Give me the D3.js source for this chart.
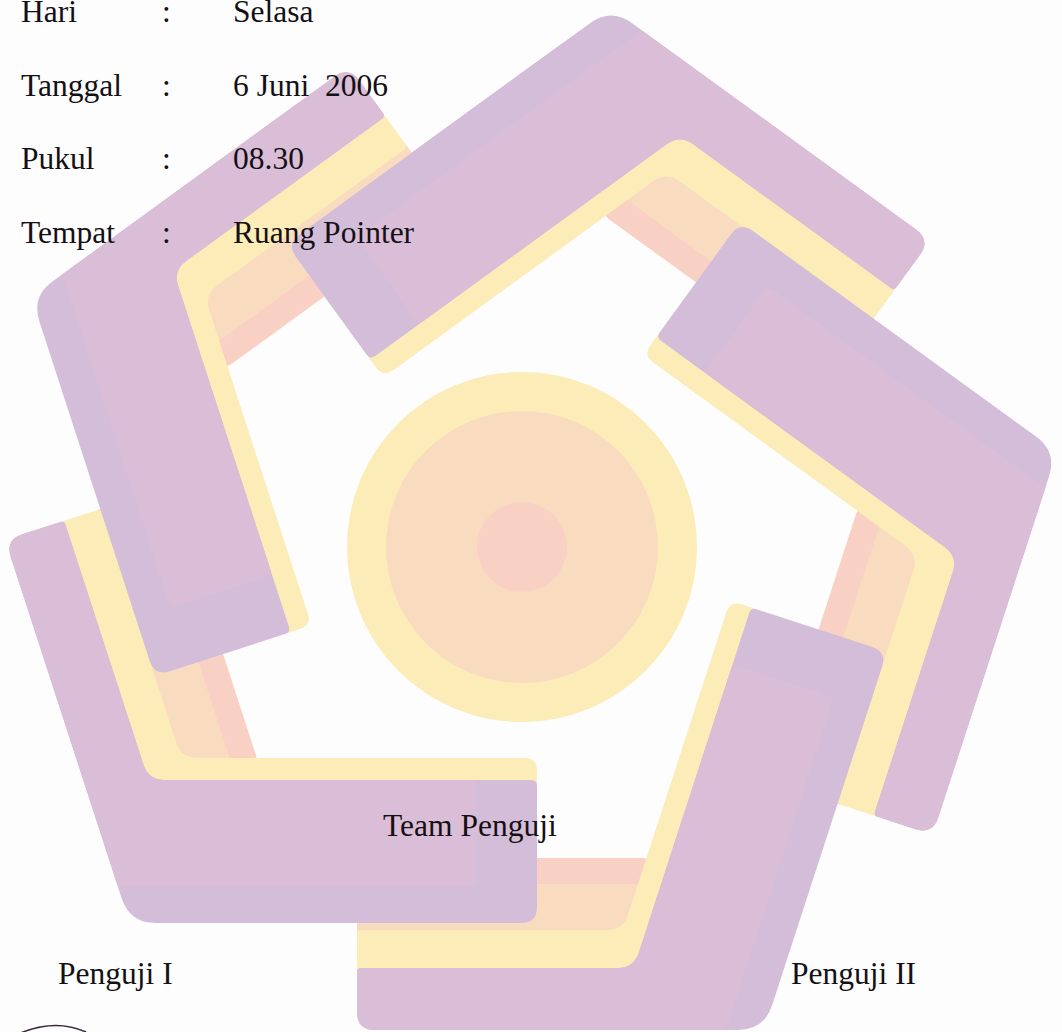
<!DOCTYPE html>
<html>
<head>
<meta charset="utf-8">
<script src="https://cdn.jsdelivr.net/npm/d3@7"></script>
<style>
html, body { margin: 0; padding: 0; background: #fdfdfd; overflow: hidden; }
text { font-family: "Liberation Serif", "Times New Roman", serif; fill: #141014; }
</style>
</head>
<body>
<svg id="page" width="1062" height="1032"></svg>
<script>
const fieldLabels = ["Hari", "Tanggal", "Pukul", "Tempat"];
const fieldValues = ["Selasa", "6 Juni  2006", "08.30", "Ruang Pointer"];
const teamTitle = "Team Penguji";
const examiners = ["Penguji I", "Penguji II"];
const armVertices = [-90, -18, 54, 126, 198]; // pentagon corners, degrees
const circleRings = ["#fbecb8", "#f9dcc0", "#f9d1c4"];

const svg = d3.select("#page");
const cx = 520, cy = 545;
const rad = d => d * Math.PI / 180;

// band offsets from the centre (px)
const A_OUT = 384, A_PURPLE_IN = 241, A_YELLOW_IN = 219, A_PINK_OUT = 348;
const B_OUT = 486, B_PURPLE_IN = 424, B_YELLOW_IN = 386, B_PEACH_IN = 340, B_SALMON_IN = 314;
// the scanned logo is not quite regular: per-arm shifts [dA, dB, tA end, tB end]
const armTweak = [[-3, 2, 12, 153], [7, -4, 12, 148], [-2, -1, 12, 163], [-6, 2, 17, 164], [4, 2, 12, 143]];

function frame(alpha, i) {
    const a = rad(alpha - 36), b = rad(alpha + 36);
    const [dA, dB, tAe, tBe] = armTweak[i];
    return {
        oA: [Math.cos(a), Math.sin(a)],
        oB: [Math.cos(b), Math.sin(b)],
        tA: [Math.cos(a - Math.PI / 2), Math.sin(a - Math.PI / 2)],
        tB: [Math.cos(b + Math.PI / 2), Math.sin(b + Math.PI / 2)],
        dA, dB, tAe, tBe
    };
}
const legPt = (o, t, s, u) => [cx + s * o[0] + u * t[0], cy + s * o[1] + u * t[1]];
function corner(f, sA, sB) {
    const [a1, a2] = f.oA, [b1, b2] = f.oB;
    const det = a1 * b2 - a2 * b1;
    return [cx + (sA * b2 - a2 * sB) / det, cy + (a1 * sB - sA * b1) / det];
}

function roundedPath(pts, radii) {
    const p = d3.path(), n = pts.length;
    for (let i = 0; i < n; i++) {
        const prev = pts[(i - 1 + n) % n], cur = pts[i], next = pts[(i + 1) % n];
        const r = radii[i] || 0;
        const d1 = Math.hypot(cur[0] - prev[0], cur[1] - prev[1]);
        const d2 = Math.hypot(next[0] - cur[0], next[1] - cur[1]);
        const r1 = Math.min(r, d1 / 2), r2 = Math.min(r, d2 / 2);
        const a = [cur[0] + (prev[0] - cur[0]) * r1 / d1, cur[1] + (prev[1] - cur[1]) * r1 / d1];
        const b = [cur[0] + (next[0] - cur[0]) * r2 / d2, cur[1] + (next[1] - cur[1]) * r2 / d2];
        if (i === 0) p.moveTo(a[0], a[1]); else p.lineTo(a[0], a[1]);
        p.quadraticCurveTo(cur[0], cur[1], b[0], b[1]);
    }
    p.closePath();
    return p.toString();
}

function chevron(f, aIn, aOut, bIn, bOut, tAend, tBend) {
    aIn += f.dA; aOut += f.dA; bIn += f.dB; bOut += f.dB;
    return [corner(f, aOut, bOut),
        legPt(f.oB, f.tB, bOut, tBend), legPt(f.oB, f.tB, bIn, tBend),
        corner(f, aIn, bIn),
        legPt(f.oA, f.tA, aIn, tAend), legPt(f.oA, f.tA, aOut, tAend)];
}
function strip(f, aLine, bIn, bOut, tBend) {
    aLine += f.dA; bIn += f.dB; bOut += f.dB;
    return [corner(f, aLine, bOut), legPt(f.oB, f.tB, bOut, tBend),
        legPt(f.oB, f.tB, bIn, tBend), corner(f, aLine, bIn)];
}

function drawArm(g, f) {
    g.append("path").attr("fill", "#f9d1c4")
        .attr("d", roundedPath(strip(f, A_YELLOW_IN + 4, B_SALMON_IN, B_PEACH_IN + 4, f.tBe), [0, 0, 0, 8]));
    g.append("path").attr("fill", "#f9dcc0")
        .attr("d", roundedPath(strip(f, A_YELLOW_IN + 4, B_PEACH_IN, B_YELLOW_IN + 4, f.tBe), [0, 0, 0, 8]));
    g.append("path").attr("fill", "#fbecb8")
        .attr("d", roundedPath(chevron(f, A_YELLOW_IN, A_PURPLE_IN + 8, B_YELLOW_IN, B_PURPLE_IN + 8, f.tAe, f.tBe),
            [10, 10, 4, 16, 12, 6]));
    g.append("path").attr("fill", "#d4bdd9")
        .attr("d", roundedPath(chevron(f, A_PURPLE_IN, A_OUT, B_PURPLE_IN, B_OUT, f.tAe, f.tBe),
            [26, 18, 4, 16, 6, 16]));
    g.append("path").attr("fill", "#dabdd6")
        .attr("d", roundedPath(chevron(f, A_PURPLE_IN, A_PINK_OUT, B_PURPLE_IN, B_OUT, f.tAe - 60, f.tBe),
            [0, 18, 4, 16, 6, 8]));
}

// Arms
svg.append("g").selectAll("g.arm")
    .data(armVertices)
    .join("g")
    .attr("class", "arm")
    .each(function (alpha, i) { drawArm(d3.select(this), frame(alpha, i)); });

// first arm's CCW leg lies on top of the last arm
const f0 = frame(armVertices[0], 0);
svg.append("clipPath").attr("id", "legClip")
    .append("path")
    .attr("d", "M" + [legPt(f0.oA, f0.tA, 150, -330), legPt(f0.oA, f0.tA, 440, -330),
        legPt(f0.oA, f0.tA, 440, 60), legPt(f0.oA, f0.tA, 150, 60)].join("L") + "Z");
drawArm(svg.append("g").attr("clip-path", "url(#legClip)"), f0);

// Centre circle
const rScale = d3.scaleOrdinal().domain(circleRings).range([175, 136, 45]);
svg.append("g").selectAll("circle")
    .data(circleRings)
    .join("circle")
    .attr("cx", 522).attr("cy", 547)
    .attr("r", d => rScale(d))
    .attr("fill", d => d);

// Header fields
const y = d3.scalePoint().domain(fieldLabels).range([22, 243]);
const rows = svg.append("g").selectAll("g")
    .data(fieldLabels)
    .join("g")
    .attr("transform", d => `translate(0,${y(d)})`)
    .style("font-size", "31.5px");
rows.append("text").attr("x", 21).text(d => d);
rows.append("text").attr("x", 162).text(":");
rows.append("text").attr("x", 233)
    .style("white-space", "pre")
    .text((d, i) => fieldValues[i]);

svg.append("text").attr("x", 383).attr("y", 836)
    .style("font-size", "31.5px").text(teamTitle);

const ex = d3.scaleOrdinal().domain(examiners).range([58, 791]);
svg.append("g").selectAll("text")
    .data(examiners)
    .join("text")
    .attr("x", d => ex(d))
    .attr("y", 984)
    .style("font-size", "31.5px")
    .text(d => d);

// start of a signature stroke at the bottom edge
svg.append("path")
    .attr("d", "M18,1034 Q55,1018 86,1032")
    .attr("fill", "none")
    .attr("stroke", "#3a2a3a")
    .attr("stroke-width", 1.6);
</script>
</body>
</html>
